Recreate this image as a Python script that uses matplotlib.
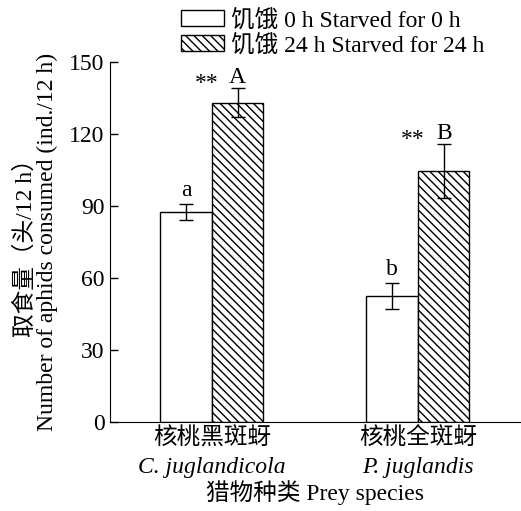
import matplotlib
matplotlib.use('Agg')
import matplotlib.pyplot as plt
from matplotlib.patches import Patch
import numpy as np

plt.rcParams['font.family'] = ['Liberation Serif', 'Noto Sans CJK SC']
plt.rcParams['font.size'] = 17
plt.rcParams['hatch.linewidth'] = 1.0

SPECIES_CN = ['核桃黑斑蚜', '核桃全斑蚜']
SPECIES_LATIN = ['C. juglandicola', 'P. juglandis']
LABELS = ['饥饿 0 h Starved for 0 h', '饥饿 24 h Starved for 24 h']

STARVED_0 = [87.5, 52.5]
STARVED_0_ERR = [3.5, 5.3]
STARVED_24 = [133.0, 104.5]
STARVED_24_ERR = [6.0, 11.3]

LETTERS_0 = ['a', 'b']
LETTERS_24 = ['A', 'B']
SIG = ['**', '**']

fig = plt.figure(figsize=(5.21, 5.11), dpi=100)
ax = fig.add_axes([0.211, 0.174, 0.789, 0.705])

x = np.arange(len(SPECIES_CN))
w = 0.25

ax.bar(x - w / 2, STARVED_0, w, color='white', edgecolor='black', linewidth=1.0,
       yerr=STARVED_0_ERR, capsize=5, error_kw=dict(elinewidth=1.0, capthick=1.0))
ax.bar(x + w / 2, STARVED_24, w, color='white', edgecolor='black', linewidth=1.0,
       hatch='\\\\\\\\', yerr=STARVED_24_ERR, capsize=5,
       error_kw=dict(elinewidth=1.0, capthick=1.0))

for i in range(len(x)):
    ax.annotate(LETTERS_0[i], (x[i] - w / 2, STARVED_0[i] + STARVED_0_ERR[i]),
                xytext=(0, 2), textcoords='offset points', ha='center', va='bottom')
    ax.annotate(LETTERS_24[i], (x[i] + w / 2, STARVED_24[i] + STARVED_24_ERR[i]),
                xytext=(0, 0), textcoords='offset points', ha='center', va='bottom')
    ax.annotate(SIG[i], (x[i], STARVED_24[i] + STARVED_24_ERR[i]),
                xytext=(-4, -4), textcoords='offset points', ha='center', va='bottom')

ax.set_xlim(-0.495, 1.5)
ax.set_ylim(0, 150)
ax.set_yticks([0, 30, 60, 90, 120, 150])
ax.tick_params(axis='y', direction='in', length=6, width=1.0, pad=4)
ax.set_xticks(x)
ax.set_xticklabels(SPECIES_CN)
ax.tick_params(axis='x', length=0, pad=4)
for i in range(len(x)):
    ax.text(x[i], -0.127, SPECIES_LATIN[i], style='italic', ha='center', va='center',
            transform=ax.get_xaxis_transform())
ax.set_xlabel('猎物种类 Prey species', labelpad=22)
ax.set_ylabel('取食量（头/12 h）\nNumber of aphids consumed (ind./12 h)', labelpad=8,
              linespacing=1.0)

ax.spines['top'].set_visible(False)
ax.spines['right'].set_visible(False)

handles = [Patch(facecolor='white', edgecolor='black', linewidth=1.0),
           Patch(facecolor='white', edgecolor='black', linewidth=1.0, hatch='\\\\\\\\')]
fig.legend(handles, LABELS, loc='upper left', bbox_to_anchor=(0.315, 1.015), frameon=False,
           handlelength=1.85, handleheight=0.65, handletextpad=0.3, labelspacing=0.12,
           borderpad=0.2)

fig.savefig('out.png', dpi=100)
